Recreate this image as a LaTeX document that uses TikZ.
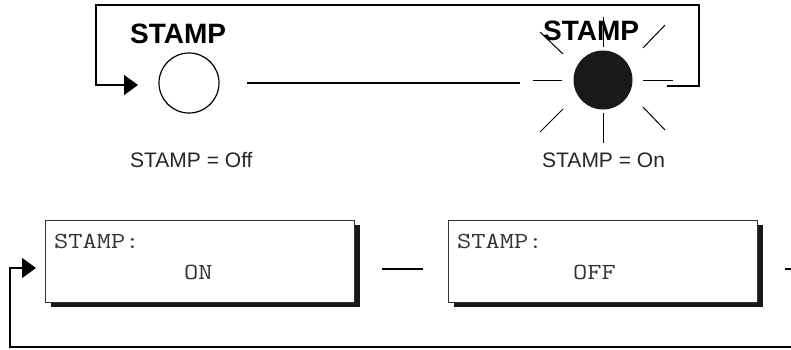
\documentclass[tikz,border=0pt]{standalone}
\usepackage{fontspec}
\setmainfont{Liberation Sans}
\newfontfamily\monofont{Latin Modern Mono}[FakeStretch=1.2]
\usetikzlibrary{arrows.meta}
\begin{document}
\begin{tikzpicture}[x=1pt,y=-1pt,
  wire/.style={line width=1.3pt,line cap=butt},
  ray/.style={line width=1pt},
  tip/.style={-{Triangle[length=14pt,width=20pt]}},
  boldlabel/.style={font=\fontsize{28}{30}\selectfont\bfseries,inner sep=0pt,anchor=base west},
  caplabel/.style={font=\fontsize{21}{23}\selectfont,inner sep=0pt,anchor=base west,text=black!85},
  monolabel/.style={font=\monofont\fontsize{23}{25}\selectfont,inner sep=0pt,anchor=base west,text=black!80},
  lcd/.style={draw=black!80,line width=0.9pt,fill=white,minimum width=309pt,minimum height=82pt,inner sep=0pt,anchor=north west},
  shadowbox/.style={fill=black!90,minimum width=309pt,minimum height=82pt,inner sep=0pt,anchor=north west}
]
\useasboundingbox (0,0) rectangle (791,349);

% ---- top part ----
\node[boldlabel] (t1) at (130,43) {STAMP};
\node[boldlabel] (t2) at (543,40) {STAMP};

\node[circle,draw,line width=1.2pt,minimum size=60pt,inner sep=0pt] (off) at (189,83) {};
\node[circle,fill=black!90,minimum size=59pt,inner sep=0pt] (on) at (603,80) {};

\coordinate (la) at (247,83);
\coordinate (lb) at (520,83);
\draw[wire] (la) -- (lb);

% rays
\draw[ray] (533,80) -- (562,80);
\draw[ray] (643,80) -- (673,80);
\draw[ray] (603,17) -- (603,47);
\draw[ray] (603,113) -- (603,143);
\draw[ray] (540,32) -- (563,54);
\draw[ray] (643,48) -- (665,25);
\draw[ray] (563,109) -- (540,132);
\draw[ray] (643,107) -- (665,130);

% top loop
\coordinate (ls) at (667,86);
\coordinate (l1) at (699,86);
\coordinate (l2) at (699,5);
\coordinate (l3) at (96,5);
\coordinate (l4) at (96,85);
\coordinate (le) at (138,85);
\draw[wire,tip,line join=miter] (ls) -- (l1) -- (l2) -- (l3) -- (l4) -- (le);

\node[caplabel] (coff) at (130,167) {STAMP = Off};
\node[caplabel] (con) at (542,167) {STAMP = On};

% ---- bottom part ----
\node[shadowbox] (s1) at (51,225) {};
\node[lcd] (b1) at (45,220) {};
\node[shadowbox] (s2) at (454,225) {};
\node[lcd] (b2) at (448,220) {};

\node[monolabel] (b1a) at (54,248) {STAMP:};
\node[monolabel] (b1b) at (184,279) {ON};
\node[monolabel] (b2a) at (457,248) {STAMP:};
\node[monolabel] (b2b) at (573,279) {OFF};

\coordinate (m1) at (382,269);
\coordinate (m2) at (423,269);
\draw[wire] (m1) -- (m2);

\coordinate (r1) at (785,269);
\coordinate (r2) at (791,269);
\draw[wire] (r1) -- (r2);

\coordinate (q1) at (791,347);
\coordinate (q2) at (10,347);
\coordinate (q3) at (10,268);
\coordinate (q4) at (36,268);
\draw[wire,tip,line join=miter] (q1) -- (q2) -- (q3) -- (q4);
\end{tikzpicture}
\end{document}
